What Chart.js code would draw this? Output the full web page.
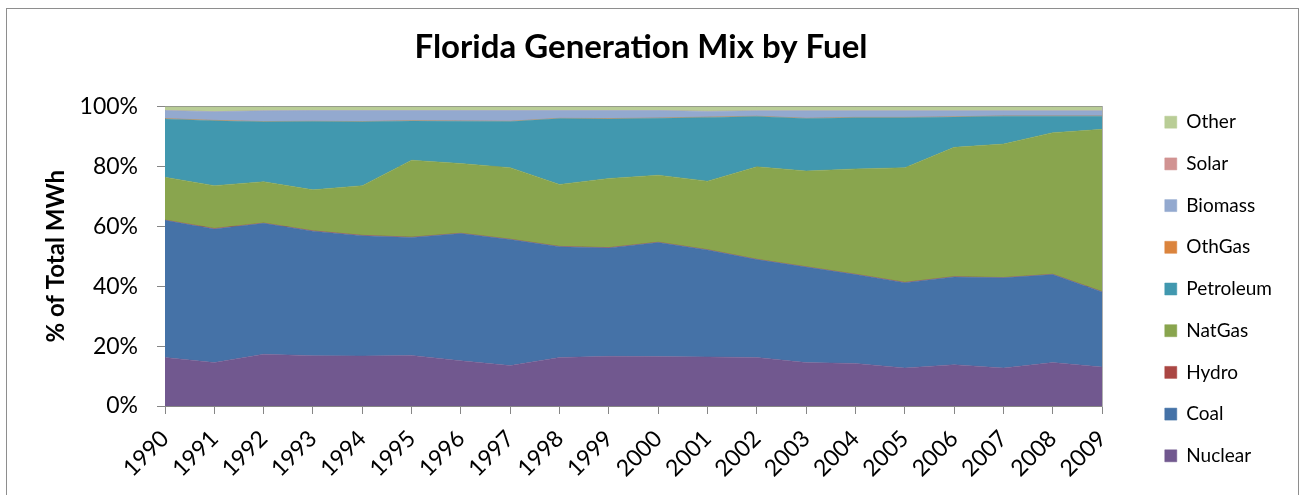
<!DOCTYPE html>
<html>
<head>
<meta charset="utf-8">
<script src="https://cdn.jsdelivr.net/npm/chart.js@4"></script>
<style>
html,body{margin:0;padding:0;background:#fff;}
#wrap{position:relative;width:1302px;height:495px;}
</style>
</head>
<body>
<div id="wrap"><canvas id="c" width="1302" height="495"></canvas></div>
<script>
const years = ['1990','1991','1992','1993','1994','1995','1996','1997','1998','1999','2000','2001','2002','2003','2004','2005','2006','2007','2008','2009'];
const nuclear   = [16.2,14.5,17.3,16.8,16.7,16.9,15.1,13.5,16.2,16.6,16.5,16.4,16.2,14.5,14.2,12.7,13.8,12.7,14.5,13.0];
const coal      = [45.8,44.6,43.7,41.6,40.2,39.4,42.5,42.1,37.0,36.2,38.1,35.7,32.7,31.9,29.7,28.5,29.3,30.1,29.4,25.1];
const hydro     = [0.1,0.2,0.1,0.1,0.1,0.1,0.1,0.1,0.1,0.1,0.1,0.1,0.1,0.1,0.1,0.1,0.1,0.1,0.1,0.1];
const natgas    = [14.3,14.3,13.8,13.7,16.6,25.7,23.3,23.9,20.7,23.1,22.4,22.9,30.9,32.0,35.2,38.3,43.2,44.6,47.3,54.2];
const petroleum = [19.5,21.7,20.0,22.8,21.3,13.1,14.1,15.4,22.0,19.9,19.0,21.3,16.8,17.5,17.1,16.7,10.1,9.3,5.5,4.4];
const othgas    = [0.1,0.1,0.1,0.1,0.1,0.1,0.1,0.1,0.1,0.1,0.1,0.1,0.1,0.1,0.1,0.1,0.1,0.1,0.1,0.1];
const biomass   = [2.7,2.9,3.6,3.6,3.7,3.4,3.5,3.6,2.6,2.7,2.5,1.9,1.8,2.5,2.2,2.2,2.0,1.7,1.7,1.7];
const solar     = [0,0,0,0,0,0,0,0,0,0,0,0,0,0,0,0,0,0,0,0];
const other     = [1.3,1.7,1.4,1.3,1.3,1.3,1.3,1.3,1.3,1.3,1.3,1.6,1.4,1.4,1.4,1.4,1.4,1.4,1.4,1.4];
const yTicks = [0,20,40,60,80,100];

const seriesNames = ['Nuclear','Coal','Hydro','NatGas','Petroleum','OthGas','Biomass','Solar','Other'];
const seriesData = [nuclear,coal,hydro,natgas,petroleum,othgas,biomass,solar,other];
const seriesColors = ['#71588F','#4572A7','#AA4643','#89A54E','#4198AF','#DB843D','#93A9CF','#D19392','#B9CD96'];

const AXIS = '#868686';
const FONT = 'Lato, "Open Sans", sans-serif';

const datasets = seriesNames.map((n,i)=>({
  label:n,
  data:seriesData[i],
  backgroundColor:seriesColors[i],
  borderColor:seriesColors[i],
  borderWidth:0.5,
  pointRadius:0,
  pointHoverRadius:0,
  tension:0,
  fill: i===0 ? 'origin' : '-1'
}));

const frame = {
  id:'frame',
  beforeDraw(chart){
    const ctx = chart.ctx;
    ctx.save();
    ctx.fillStyle='#fff';
    ctx.fillRect(0,0,chart.width,chart.height);
    ctx.strokeStyle='#8e8e8e';
    ctx.lineWidth=1;
    ctx.strokeRect(6.5,8.5,1292,500);
    ctx.restore();
  }
};

new Chart(document.getElementById('c'),{
  type:'line',
  data:{labels:years,datasets},
  plugins:[frame],
  options:{
    responsive:false,
    animation:false,
    events:[],
    layout:{padding:{left:0,right:20,top:0,bottom:7}},
    plugins:{
      title:{display:true,text:'Florida Generation Mix by Fuel',color:'#000',
        font:{family:FONT,size:33,weight:'bold'},padding:{top:28,bottom:39}},
      legend:{display:true,position:'right',align:'end',reverse:true,
        labels:{color:'#000',font:{family:FONT,size:19},boxWidth:12,boxHeight:12,padding:22.7}},
      tooltip:{enabled:false}
    },
    scales:{
      x:{
        type:'category',
        offset:false,
        grid:{display:true,drawOnChartArea:false,drawTicks:true,tickLength:8,color:AXIS,lineWidth:1},
        border:{display:true,color:AXIS,width:1},
        ticks:{color:'#000',font:{family:FONT,size:23},maxRotation:45,minRotation:45,padding:11,autoSkip:false},
        afterFit(s){ s.height = 82; }
      },
      y:{
        stacked:true,
        min:0,max:100,
        afterBuildTicks(s){ s.ticks = yTicks.map(v=>({value:v})); },
        grid:{display:true,drawOnChartArea:true,drawTicks:true,tickLength:8,color:AXIS,lineWidth:1},
        border:{display:true,color:AXIS,width:1},
        ticks:{color:'#000',font:{family:FONT,size:23},padding:19,callback:v=>v+'%'},
        title:{display:true,text:'% of Total MWh',color:'#000',font:{family:FONT,size:24,weight:'bold'},padding:{top:42,bottom:0}},
        afterFit(s){ s.width = 165; }
      },
      y2:{
        position:'right',
        display:true,
        min:0,max:100,
        grid:{display:false,drawTicks:false},
        border:{display:true,color:'#b0b0b0',width:1},
        ticks:{display:false},
        afterFit(s){ s.width = 40; }
      }
    }
  }
});
</script>
</body>
</html>
